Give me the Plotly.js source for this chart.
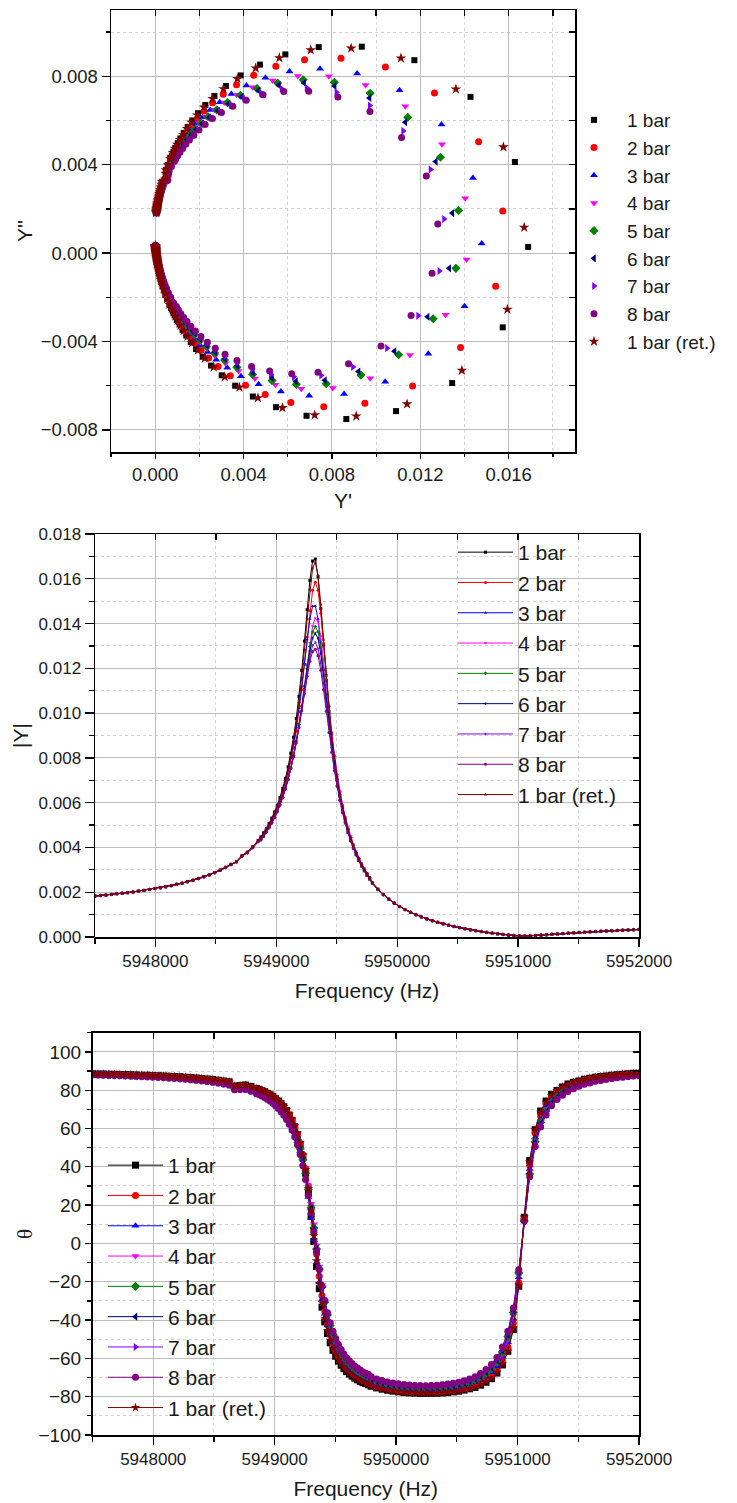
<!DOCTYPE html>
<html>
<head>
<meta charset="utf-8">
<script src="https://cdn.plot.ly/plotly-3.0.1.min.js"></script>
<style>
  html, body { margin: 0; padding: 0; background: #ffffff; }
  #chart { width: 737px; height: 1503px; }
</style>
</head>
<body>
<div id="chart"></div>
<script>
// Frequency sweep (Hz): 45 Hz steps in the wings, 22.5 Hz steps across the resonance.
const freqHz = [
  5947500,5947545,5947590,5947635,5947680,5947725,5947770,5947815,5947860,5947905,5947950,5947995,5948040,5948085,5948130,5948175,5948220,5948265,5948310,5948355,5948400,5948445,5948490,5948535,5948580,5948625,5948670,5948715,5948760,5948805,5948850,
  5948872.5,5948895,5948917.5,5948940,5948962.5,5948985,5949007.5,5949030,5949052.5,5949075,5949097.5,5949120,5949142.5,5949165,5949187.5,5949210,5949232.5,5949255,5949277.5,5949300,5949322.5,5949345,5949367.5,5949390,5949412.5,5949435,5949457.5,5949480,5949502.5,5949525,5949547.5,5949570,5949592.5,5949615,5949637.5,5949660,5949682.5,5949705,5949727.5,5949750,5949772.5,
  5949795,5949840,5949885,5949930,5949975,5950020,5950065,5950110,5950155,5950200,5950245,5950290,5950335,5950380,5950425,5950470,5950515,5950560,5950605,5950650,5950695,5950740,5950785,5950830,5950875,5950920,5950965,5951010,5951055,5951100,5951145,5951190,5951235,5951280,5951325,5951370,5951415,5951460,5951505,5951550,5951595,5951640,5951685,5951730,5951775,5951820,5951865,5951910,5951955,5952000
];

// Conductance Y' (mS) and susceptance Y'' (mS) for each pressure, on the sweep above.
const g1bar = [
  .047,.049,.052,.055,.058,.061,.065,.069,.073,.078,.083,.088,.095,.102,.110,.118,.128,.139,.152,.166,.183,.202,.224,.250,.281,.318,.462,.477,.485,.570,.680,
  0.75,0.83,0.91,1.02,1.14,1.29,1.47,1.68,1.94,2.27,2.68,3.20,3.87,4.74,5.89,7.40,9.35,11.73,14.27,16.28,16.88,15.73,13.44,10.90,8.65,6.85,5.47,4.42,3.62,3.01,2.53,2.15,1.85,1.61,1.41,1.24,1.10,0.98,0.88,0.80,0.72,
  .645,.539,.457,.392,.339,.296,.260,.230,.205,.183,.165,.149,.134,.122,.111,.102,.093,.086,.079,.072,.067,.062,.057,.053,.049,.046,.042,.039,.037,.034,.032,.029,.027,.025,.024,.022,.020,.019,.018,.016,.015,.014,.013,.012,.011,.010,.009,.008,.007,.007
];
const b1bar = [
  1.83,1.85,1.87,1.90,1.93,1.95,1.98,2.01,2.05,2.08,2.12,2.16,2.20,2.24,2.29,2.35,2.40,2.47,2.53,2.61,2.69,2.77,2.87,2.98,3.10,3.23,3.34,3.60,3.76,3.99,4.26,
  4.41,4.58,4.76,4.97,5.19,5.43,5.70,6.00,6.33,6.70,7.11,7.56,8.04,8.53,8.99,9.32,9.34,8.73,7.07,4.12,0.28,-3.36,-5.88,-7.15,-7.51,-7.36,-6.97,-6.49,-6.00,-5.53,-5.09,-4.69,-4.34,-4.02,-3.73,-3.47,-3.23,-3.02,-2.82,-2.64,-2.48,
  -2.333,-2.070,-1.844,-1.650,-1.480,-1.331,-1.198,-1.080,-0.974,-0.879,-0.793,-0.714,-0.642,-0.576,-0.515,-0.459,-0.407,-0.359,-0.314,-0.272,-0.233,-0.196,-0.162,-0.129,-0.098,-0.069,-0.042,-0.016,0.009,0.032,0.054,0.076,0.096,0.115,0.133,0.151,0.168,0.184,0.199,0.214,0.229,0.242,0.256,0.268,0.281,0.293,0.304,0.315,0.326,0.336
];
const g2bar = [
  .050,.053,.056,.059,.062,.065,.069,.073,.078,.083,.088,.095,.101,.109,.117,.126,.137,.149,.162,.177,.195,.215,.239,.266,.299,.338,.486,.504,.515,.606,.722,
  0.76,0.84,0.93,1.03,1.15,1.29,1.46,1.67,1.92,2.22,2.60,3.08,3.68,4.46,5.46,6.76,8.41,10.42,12.64,14.64,15.73,15.41,13.82,11.65,9.49,7.63,6.14,4.98,4.09,3.40,2.85,2.42,2.08,1.80,1.57,1.38,1.23,1.10,0.98,0.89,0.80,
  .685,.574,.487,.418,.362,.316,.278,.246,.220,.197,.177,.160,.145,.131,.120,.110,.101,.092,.085,.078,.072,.067,.062,.058,.054,.050,.046,.043,.040,.037,.035,.033,.030,.028,.026,.025,.023,.021,.020,.018,.017,.016,.015,.014,.013,.012,.011,.010,.009,.008
];
const b2bar = [
  1.83,1.85,1.87,1.90,1.93,1.95,1.98,2.01,2.05,2.08,2.12,2.16,2.20,2.24,2.29,2.35,2.40,2.46,2.53,2.60,2.68,2.77,2.87,2.97,3.09,3.23,3.33,3.59,3.75,3.97,4.24,
  4.32,4.48,4.65,4.84,5.04,5.27,5.52,5.79,6.10,6.43,6.80,7.19,7.62,8.05,8.45,8.75,8.82,8.42,7.25,5.04,1.90,-1.50,-4.27,-6.01,-6.79,-6.95,-6.76,-6.40,-5.98,-5.55,-5.13,-4.75,-4.40,-4.08,-3.79,-3.53,-3.29,-3.07,-2.87,-2.69,-2.53,
  -2.313,-2.054,-1.832,-1.640,-1.472,-1.324,-1.193,-1.076,-0.970,-0.876,-0.790,-0.711,-0.640,-0.574,-0.514,-0.458,-0.406,-0.358,-0.313,-0.271,-0.232,-0.195,-0.161,-0.128,-0.098,-0.069,-0.041,-0.016,0.009,0.032,0.055,0.076,0.096,0.115,0.134,0.151,0.168,0.184,0.200,0.215,0.229,0.243,0.256,0.269,0.281,0.293,0.304,0.315,0.326,0.336
];
const g3bar = [
  .054,.056,.059,.063,.066,.070,.074,.078,.083,.088,.094,.101,.108,.116,.125,.135,.146,.158,.173,.189,.208,.229,.254,.284,.318,.360,.510,.531,.547,.643,.765,
  0.84,0.93,1.03,1.14,1.28,1.44,1.63,1.86,2.14,2.49,2.92,3.45,4.13,4.99,6.08,7.46,9.14,11.06,12.96,14.38,14.78,14.00,12.36,10.41,8.55,6.97,5.69,4.68,3.88,3.26,2.76,2.37,2.04,1.78,1.57,1.38,1.23,1.10,0.99,0.90,0.82,
  .727,.610,.518,.445,.386,.337,.297,.263,.235,.210,.189,.171,.155,.141,.129,.118,.108,.100,.092,.085,.078,.072,.067,.062,.058,.054,.050,.047,.044,.041,.038,.036,.033,.031,.029,.027,.025,.024,.022,.021,.019,.018,.017,.016,.014,.013,.012,.011,.011,.010
];
const b3bar = [
  1.83,1.85,1.87,1.90,1.93,1.95,1.98,2.01,2.05,2.08,2.12,2.16,2.20,2.24,2.29,2.35,2.40,2.46,2.53,2.60,2.68,2.77,2.86,2.97,3.09,3.22,3.32,3.58,3.73,3.96,4.22,
  4.37,4.53,4.70,4.89,5.10,5.33,5.58,5.85,6.15,6.48,6.83,7.20,7.58,7.94,8.22,8.34,8.13,7.37,5.82,3.40,0.44,-2.41,-4.55,-5.82,-6.37,-6.45,-6.26,-5.94,-5.57,-5.19,-4.83,-4.48,-4.17,-3.88,-3.61,-3.37,-3.15,-2.95,-2.76,-2.59,-2.44,
  -2.292,-2.038,-1.819,-1.630,-1.463,-1.317,-1.187,-1.071,-0.966,-0.872,-0.787,-0.709,-0.637,-0.572,-0.512,-0.456,-0.404,-0.357,-0.312,-0.270,-0.231,-0.194,-0.160,-0.128,-0.097,-0.068,-0.041,-0.015,0.010,0.033,0.055,0.076,0.096,0.116,0.134,0.152,0.168,0.184,0.200,0.215,0.229,0.243,0.256,0.269,0.281,0.293,0.304,0.315,0.326,0.336
];
const g4bar = [
  .056,.059,.062,.065,.069,.073,.077,.081,.087,.092,.098,.105,.112,.121,.130,.140,.152,.165,.180,.197,.216,.238,.264,.295,.331,.374,.526,.550,.569,.667,.794,
  0.82,0.90,0.99,1.10,1.22,1.37,1.54,1.75,1.99,2.30,2.67,3.12,3.69,4.41,5.32,6.46,7.86,9.52,11.32,12.98,14.03,14.09,13.14,11.53,9.73,8.04,6.61,5.44,4.51,3.77,3.18,2.71,2.34,2.03,1.77,1.56,1.38,1.24,1.11,1.00,0.91,
  .755,.634,.539,.463,.402,.352,.310,.275,.245,.219,.198,.179,.162,.148,.135,.123,.113,.104,.096,.089,.082,.076,.071,.066,.061,.057,.053,.050,.046,.043,.040,.038,.035,.033,.031,.029,.027,.025,.024,.022,.021,.019,.018,.017,.016,.015,.014,.013,.012,.011
];
const b4bar = [
  1.83,1.85,1.87,1.90,1.93,1.95,1.98,2.01,2.05,2.08,2.12,2.16,2.20,2.24,2.29,2.35,2.40,2.46,2.53,2.60,2.68,2.76,2.86,2.97,3.08,3.22,3.31,3.57,3.73,3.95,4.20,
  4.24,4.39,4.55,4.73,4.92,5.13,5.35,5.60,5.87,6.17,6.49,6.82,7.17,7.51,7.81,8.01,8.00,7.61,6.65,4.92,2.48,-0.29,-2.79,-4.61,-5.66,-6.10,-6.14,-5.96,-5.67,-5.33,-4.98,-4.64,-4.32,-4.03,-3.75,-3.50,-3.27,-3.06,-2.87,-2.69,-2.53,
  -2.278,-2.027,-1.811,-1.623,-1.458,-1.312,-1.183,-1.067,-0.964,-0.870,-0.784,-0.707,-0.636,-0.571,-0.511,-0.455,-0.403,-0.356,-0.311,-0.269,-0.230,-0.194,-0.159,-0.127,-0.097,-0.068,-0.041,-0.015,0.010,0.033,0.055,0.076,0.097,0.116,0.134,0.152,0.169,0.185,0.200,0.215,0.229,0.243,0.256,0.269,0.281,0.293,0.304,0.315,0.326,0.336
];
const g5bar = [
  .057,.060,.064,.067,.071,.075,.079,.084,.089,.095,.101,.108,.116,.124,.134,.144,.156,.169,.185,.202,.222,.245,.272,.303,.340,.385,.538,.563,.584,.685,.814,
  0.85,0.93,1.03,1.14,1.27,1.43,1.61,1.83,2.09,2.40,2.79,3.27,3.86,4.61,5.54,6.70,8.11,9.73,11.43,12.91,13.73,13.61,12.58,11.02,9.31,7.74,6.39,5.29,4.41,3.70,3.14,2.69,2.32,2.02,1.77,1.56,1.39,1.24,1.11,1.01,0.91,
  .775,.651,.554,.476,.413,.362,.319,.283,.252,.226,.204,.184,.167,.152,.139,.127,.117,.108,.099,.092,.085,.079,.073,.068,.063,.059,.055,.051,.048,.045,.042,.039,.037,.034,.032,.030,.028,.027,.025,.023,.022,.020,.019,.018,.017,.015,.014,.013,.012,.011
];
const b5bar = [
  1.83,1.85,1.87,1.90,1.93,1.95,1.98,2.01,2.05,2.08,2.12,2.16,2.20,2.24,2.29,2.35,2.40,2.46,2.53,2.60,2.68,2.76,2.86,2.96,3.08,3.21,3.31,3.57,3.72,3.94,4.19,
  4.26,4.41,4.57,4.74,4.93,5.14,5.37,5.62,5.88,6.17,6.48,6.81,7.14,7.45,7.70,7.84,7.73,7.23,6.14,4.34,1.93,-0.69,-2.97,-4.60,-5.52,-5.91,-5.94,-5.77,-5.49,-5.17,-4.84,-4.52,-4.22,-3.93,-3.67,-3.43,-3.21,-3.01,-2.82,-2.65,-2.49,
  -2.268,-2.020,-1.805,-1.618,-1.454,-1.309,-1.180,-1.065,-0.962,-0.868,-0.783,-0.706,-0.635,-0.570,-0.510,-0.454,-0.403,-0.355,-0.310,-0.269,-0.230,-0.193,-0.159,-0.127,-0.096,-0.067,-0.040,-0.014,0.010,0.033,0.056,0.077,0.097,0.116,0.134,0.152,0.169,0.185,0.200,0.215,0.229,0.243,0.256,0.269,0.281,0.293,0.304,0.315,0.326,0.336
];
const g6bar = [
  .059,.062,.065,.068,.072,.076,.081,.086,.091,.097,.103,.110,.118,.127,.136,.147,.159,.173,.189,.206,.227,.250,.278,.310,.348,.393,.547,.574,.596,.699,.830,
  0.87,0.96,1.05,1.17,1.30,1.46,1.64,1.86,2.13,2.45,2.84,3.32,3.92,4.67,5.60,6.74,8.12,9.70,11.32,12.70,13.45,13.31,12.33,10.83,9.20,7.68,6.37,5.29,4.42,3.72,3.16,2.71,2.34,2.04,1.79,1.58,1.41,1.26,1.13,1.02,0.93,
  .791,.665,.566,.486,.422,.370,.326,.289,.258,.231,.208,.188,.171,.156,.142,.130,.120,.110,.102,.094,.087,.081,.075,.070,.065,.061,.057,.053,.049,.046,.043,.040,.038,.035,.033,.031,.029,.027,.026,.024,.023,.021,.020,.019,.017,.016,.015,.014,.013,.012
];
const b6bar = [
  1.83,1.85,1.87,1.90,1.93,1.95,1.98,2.01,2.05,2.08,2.12,2.16,2.20,2.24,2.29,2.35,2.40,2.46,2.53,2.60,2.68,2.76,2.86,2.96,3.08,3.21,3.31,3.56,3.71,3.93,4.19,
  4.26,4.40,4.56,4.74,4.93,5.13,5.36,5.60,5.86,6.14,6.44,6.76,7.07,7.36,7.60,7.70,7.56,7.02,5.92,4.14,1.81,-0.69,-2.88,-4.44,-5.36,-5.75,-5.80,-5.65,-5.40,-5.10,-4.78,-4.47,-4.18,-3.90,-3.64,-3.41,-3.19,-2.99,-2.80,-2.63,-2.48,
  -2.261,-2.014,-1.800,-1.614,-1.451,-1.307,-1.178,-1.063,-0.960,-0.867,-0.782,-0.705,-0.634,-0.569,-0.509,-0.454,-0.402,-0.355,-0.310,-0.269,-0.230,-0.193,-0.159,-0.127,-0.096,-0.067,-0.040,-0.014,0.010,0.034,0.056,0.077,0.097,0.116,0.134,0.152,0.169,0.185,0.200,0.215,0.229,0.243,0.256,0.269,0.281,0.293,0.304,0.315,0.326,0.336
];
const g7bar = [
  .060,.064,.067,.071,.074,.079,.083,.088,.094,.100,.106,.114,.122,.131,.141,.152,.164,.178,.194,.213,.234,.258,.286,.319,.358,.404,.560,.588,.613,.719,.854,
  0.90,0.99,1.09,1.21,1.35,1.51,1.70,1.93,2.20,2.53,2.93,3.42,4.03,4.79,5.72,6.85,8.20,9.71,11.22,12.46,13.07,12.86,11.90,10.49,8.95,7.51,6.27,5.23,4.39,3.71,3.17,2.72,2.36,2.06,1.81,1.60,1.43,1.28,1.15,1.04,0.94,
  .814,.684,.582,.501,.435,.381,.336,.298,.266,.239,.215,.194,.177,.161,.147,.135,.124,.114,.105,.097,.090,.084,.078,.072,.067,.063,.059,.055,.051,.048,.045,.042,.039,.037,.035,.033,.031,.029,.027,.025,.024,.022,.021,.020,.018,.017,.016,.015,.014,.013
];
const b7bar = [
  1.83,1.85,1.87,1.90,1.93,1.95,1.98,2.01,2.05,2.08,2.12,2.16,2.20,2.24,2.29,2.35,2.40,2.46,2.52,2.60,2.67,2.76,2.85,2.96,3.08,3.21,3.30,3.56,3.71,3.92,4.17,
  4.25,4.40,4.56,4.73,4.92,5.12,5.34,5.58,5.84,6.11,6.40,6.69,6.99,7.25,7.44,7.48,7.28,6.68,5.53,3.78,1.54,-0.81,-2.84,-4.30,-5.15,-5.54,-5.60,-5.48,-5.24,-4.96,-4.67,-4.37,-4.09,-3.83,-3.58,-3.35,-3.14,-2.94,-2.77,-2.60,-2.45,
  -2.249,-2.005,-1.793,-1.609,-1.446,-1.303,-1.175,-1.061,-0.958,-0.865,-0.780,-0.703,-0.633,-0.568,-0.508,-0.453,-0.402,-0.354,-0.309,-0.268,-0.229,-0.193,-0.158,-0.126,-0.096,-0.067,-0.040,-0.014,0.011,0.034,0.056,0.077,0.097,0.116,0.135,0.152,0.169,0.185,0.201,0.215,0.230,0.243,0.256,0.269,0.281,0.293,0.304,0.315,0.326,0.336
];
const g8bar = [
  .062,.065,.068,.072,.076,.080,.085,.090,.096,.102,.109,.116,.125,.134,.144,.155,.168,.182,.199,.218,.239,.264,.292,.326,.366,.413,.570,.600,.626,.734,.872,
  0.93,1.02,1.12,1.24,1.38,1.55,1.75,1.98,2.26,2.59,3.00,3.51,4.12,4.88,5.82,6.95,8.27,9.72,11.15,12.27,12.79,12.53,11.58,10.22,8.75,7.37,6.18,5.18,4.36,3.70,3.16,2.72,2.36,2.07,1.82,1.61,1.44,1.29,1.16,1.05,0.96,
  .831,.699,.595,.512,.445,.390,.344,.305,.272,.244,.220,.199,.181,.165,.151,.138,.127,.117,.108,.100,.093,.086,.080,.074,.069,.065,.060,.057,.053,.049,.046,.043,.041,.038,.036,.034,.032,.030,.028,.026,.025,.023,.022,.020,.019,.018,.017,.016,.015,.014
];
const b8bar = [
  1.83,1.85,1.87,1.90,1.93,1.95,1.98,2.01,2.05,2.08,2.12,2.16,2.20,2.24,2.29,2.35,2.40,2.46,2.52,2.59,2.67,2.76,2.85,2.96,3.07,3.20,3.30,3.55,3.70,3.92,4.16,
  4.26,4.40,4.56,4.73,4.92,5.12,5.33,5.57,5.82,6.09,6.36,6.65,6.92,7.16,7.31,7.32,7.06,6.41,5.23,3.49,1.32,-0.91,-2.82,-4.20,-5.01,-5.39,-5.46,-5.34,-5.13,-4.86,-4.58,-4.30,-4.03,-3.77,-3.53,-3.31,-3.10,-2.91,-2.74,-2.57,-2.42,
  -2.241,-1.998,-1.788,-1.604,-1.443,-1.300,-1.173,-1.059,-0.956,-0.863,-0.779,-0.702,-0.632,-0.567,-0.507,-0.452,-0.401,-0.353,-0.309,-0.268,-0.229,-0.192,-0.158,-0.126,-0.095,-0.067,-0.040,-0.014,0.011,0.034,0.056,0.077,0.097,0.116,0.135,0.152,0.169,0.185,0.201,0.215,0.230,0.243,0.257,0.269,0.281,0.293,0.305,0.316,0.326,0.336
];
const g1barRet = [
  .047,.050,.053,.055,.059,.062,.065,.069,.074,.079,.084,.089,.096,.103,.111,.120,.129,.141,.153,.168,.185,.204,.226,.253,.284,.321,.466,.481,.490,.576,.687,
  0.74,0.81,0.90,1.00,1.13,1.27,1.44,1.64,1.90,2.21,2.60,3.09,3.72,4.55,5.62,7.04,8.87,11.12,13.61,15.76,16.70,15.94,13.88,11.40,9.10,7.22,5.76,4.65,3.81,3.15,2.65,2.25,1.93,1.67,1.46,1.29,1.14,1.02,0.91,0.82,0.75,
  .651,.545,.462,.396,.343,.299,.263,.233,.207,.185,.167,.150,.136,.124,.113,.103,.094,.087,.080,.073,.068,.063,.058,.054,.050,.046,.043,.040,.037,.035,.032,.030,.028,.026,.024,.022,.021,.019,.018,.017,.015,.014,.013,.012,.011,.010,.009,.009,.008,.007
];
const b1barRet = [
  1.83,1.85,1.87,1.90,1.93,1.95,1.98,2.01,2.05,2.08,2.12,2.16,2.20,2.24,2.29,2.35,2.40,2.47,2.53,2.61,2.69,2.77,2.87,2.98,3.10,3.23,3.34,3.60,3.76,3.99,4.26,
  4.37,4.54,4.72,4.91,5.13,5.36,5.63,5.92,6.24,6.60,6.99,7.43,7.89,8.37,8.83,9.19,9.27,8.82,7.42,4.80,1.16,-2.55,-5.31,-6.83,-7.38,-7.33,-7.00,-6.55,-6.07,-5.60,-5.16,-4.76,-4.40,-4.07,-3.78,-3.51,-3.27,-3.05,-2.86,-2.68,-2.51,
  -2.330,-2.067,-1.842,-1.648,-1.479,-1.329,-1.197,-1.079,-0.974,-0.878,-0.792,-0.714,-0.642,-0.576,-0.515,-0.459,-0.407,-0.359,-0.314,-0.272,-0.233,-0.196,-0.161,-0.129,-0.098,-0.069,-0.042,-0.016,0.009,0.032,0.054,0.076,0.096,0.115,0.133,0.151,0.168,0.184,0.200,0.214,0.229,0.242,0.256,0.268,0.281,0.293,0.304,0.315,0.326,0.336
];

const seriesNames = ['1 bar', '2 bar', '3 bar', '4 bar', '5 bar', '6 bar', '7 bar', '8 bar', '1 bar (ret.)'];
const seriesG = [g1bar, g2bar, g3bar, g4bar, g5bar, g6bar, g7bar, g8bar, g1barRet];
const seriesB = [b1bar, b2bar, b3bar, b4bar, b5bar, b6bar, b7bar, b8bar, b1barRet];
const seriesColors = ['#000000', '#ff0000', '#0000ff', '#ff00ff', '#008000', '#000080', '#8000ff', '#800080', '#800000'];
const seriesSymbols = ['square', 'circle', 'triangle-up', 'triangle-down', 'diamond', 'triangle-left', 'triangle-right', 'circle', 'star'];
const nyquistSizes = [6, 7, 7, 7, 7, 7, 7, 7, 8];

const FONT = 'Liberation Sans, Arial, Helvetica, sans-serif';
const MAJOR_GRID = '#bcbcbc';
const MINOR_GRID = '#d2d2d2';

const traces = [];
seriesNames.forEach((name, i) => {
  const g = seriesG[i];
  const b = seriesB[i];
  const yRe = g.map(v => v / 1000);            // mS -> S
  const yIm = b.map(v => v / 1000);
  const mag = g.map((v, k) => Math.hypot(v, b[k]) / 1000);
  const phase = g.map((v, k) => Math.atan2(b[k], v) * 180 / Math.PI);

  // Nyquist plane
  traces.push({
    type: 'scatter', mode: 'markers', name: name, x: yRe, y: yIm,
    xaxis: 'x', yaxis: 'y', legend: 'legend', hoverinfo: 'skip',
    marker: { symbol: seriesSymbols[i], color: seriesColors[i], size: nyquistSizes[i], line: { width: 0 } }
  });
  // |Y| versus frequency
  traces.push({
    type: 'scatter', mode: 'lines+markers', name: name, x: freqHz, y: mag,
    xaxis: 'x2', yaxis: 'y2', legend: 'legend2', hoverinfo: 'skip',
    line: { color: seriesColors[i], width: 1 },
    marker: { symbol: seriesSymbols[i], color: seriesColors[i], size: 3, line: { width: 0 } }
  });
  // phase versus frequency
  traces.push({
    type: 'scatter', mode: 'lines+markers', name: name, x: freqHz, y: phase,
    xaxis: 'x3', yaxis: 'y3', legend: 'legend3', hoverinfo: 'skip',
    line: { color: seriesColors[i], width: 1 },
    marker: { symbol: seriesSymbols[i], color: seriesColors[i], size: 7, line: { width: 0 } }
  });
});

// empty traces that carry the inward-pointing tick axes on the top and right frames
[['x4', 'y4'], ['x5', 'y5'], ['x6', 'y6']].forEach(([xa, ya]) => {
  traces.push({ type: 'scatter', mode: 'markers', x: [null], y: [null], xaxis: xa, yaxis: ya,
    showlegend: false, hoverinfo: 'skip' });
});

function outerAxis(extra) {
  return Object.assign({
    showline: true, linecolor: '#000', linewidth: 1.5, mirror: true,
    ticks: 'outside', ticklen: 8, tickwidth: 1.3, tickcolor: '#000',
    showgrid: true, gridcolor: MAJOR_GRID, gridwidth: 1, zeroline: false,
    tickfont: { family: FONT, size: 18, color: '#1a1a1a' },
    fixedrange: true
  }, extra);
}
function innerAxis(extra) {
  return Object.assign({
    showline: false, ticks: 'inside', ticklen: 6, tickwidth: 1.3, tickcolor: '#000',
    showticklabels: false, showgrid: false, zeroline: false, fixedrange: true
  }, extra);
}
function minor(tick0, dtick, len) {
  return { tick0: tick0, dtick: dtick, ticks: 'outside', ticklen: len, tickwidth: 1.2, tickcolor: '#000',
    showgrid: true, gridcolor: MINOR_GRID, gridwidth: 1, griddash: 'dot' };
}
const titleFont = { family: FONT, size: 21, color: '#1a1a1a' };

const dom1x = [111 / 737, 575 / 737], dom1y = [1 - 452 / 1503, 1 - 10 / 1503];
const dom2x = [95 / 737, 639 / 737], dom2y = [1 - 937 / 1503, 1 - 534 / 1503];
const dom3x = [92.5 / 737, 639 / 737], dom3y = [1 - 1435 / 1503, 1 - 1032.7 / 1503];
const rangeY1x = [-0.002, 0.019], rangeY1y = [-0.009, 0.011];
const rangeF = [5947500, 5952000], rangeMag = [0, 0.018], rangePhase = [-100, 110];

const layout = {
  width: 737, height: 1503,
  margin: { l: 0, r: 0, t: 0, b: 0 },
  paper_bgcolor: '#ffffff', plot_bgcolor: '#ffffff',
  font: { family: FONT, color: '#1a1a1a' },
  showlegend: true,

  xaxis: outerAxis({ domain: dom1x, anchor: 'y', range: rangeY1x, tick0: 0, dtick: 0.004, tickformat: '.3f',
    ticklen: 5, tickfont: { family: FONT, size: 18.5, color: '#1a1a1a' },
    minor: minor(0, 0.002, 3), title: { text: "Y'", font: titleFont, standoff: 9 } }),
  yaxis: outerAxis({ domain: dom1y, anchor: 'x', range: rangeY1y, tick0: 0, dtick: 0.004, tickformat: '.3f',
    tickfont: { family: FONT, size: 18.5, color: '#1a1a1a' },
    minor: minor(0, 0.002, 4), title: { text: "Y''", font: titleFont, standoff: 2 } }),
  xaxis4: innerAxis({ overlaying: 'x', anchor: 'y4', side: 'top', range: rangeY1x, tick0: 0, dtick: 0.002 }),
  yaxis4: innerAxis({ overlaying: 'y', anchor: 'x4', side: 'right', range: rangeY1y, tick0: 0, dtick: 0.002 }),

  xaxis2: outerAxis({ domain: dom2x, anchor: 'y2', range: rangeF, tick0: 5948000, dtick: 1000, tickformat: 'd',
    tickfont: { family: FONT, size: 17, color: '#1a1a1a' },
    minor: minor(5947500, 500, 5), title: { text: 'Frequency (Hz)', font: titleFont, standoff: 13 } }),
  yaxis2: outerAxis({ domain: dom2y, anchor: 'x2', range: rangeMag, tick0: 0, dtick: 0.002, tickformat: '.3f',
    tickfont: { family: FONT, size: 17, color: '#1a1a1a' }, ticklen: 9,
    minor: minor(0, 0.001, 5), title: { text: '|Y|', font: titleFont, standoff: 4 } }),
  xaxis5: innerAxis({ overlaying: 'x2', anchor: 'y5', side: 'top', range: rangeF, tick0: 5947500, dtick: 500 }),
  yaxis5: innerAxis({ overlaying: 'y2', anchor: 'x5', side: 'right', range: rangeMag, tick0: 0, dtick: 0.001 }),

  xaxis3: outerAxis({ domain: dom3x, anchor: 'y3', range: rangeF, tick0: 5948000, dtick: 1000, tickformat: 'd',
    tickfont: { family: FONT, size: 17, color: '#1a1a1a' },
    minor: minor(5947500, 500, 5), title: { text: 'Frequency (Hz)', font: titleFont, standoff: 13 } }),
  yaxis3: outerAxis({ domain: dom3y, anchor: 'x3', range: rangePhase, tick0: 0, dtick: 20,
    tickfont: { family: FONT, size: 19, color: '#1a1a1a' }, ticklen: 6,
    minor: minor(0, 10, 4),
    title: { text: 'θ', font: { family: 'Liberation Serif, DejaVu Serif, serif', size: 21, color: '#1a1a1a' }, standoff: 0 } }),
  xaxis6: innerAxis({ overlaying: 'x3', anchor: 'y6', side: 'top', range: rangeF, tick0: 5947500, dtick: 500 }),
  yaxis6: innerAxis({ overlaying: 'y3', anchor: 'x6', side: 'right', range: rangePhase, tick0: 0, dtick: 10 }),

  legend: { x: 561 / 737, y: 1 - 101 / 1503, xanchor: 'left', yanchor: 'top', itemwidth: 56,
    font: { family: FONT, size: 19, color: '#1a1a1a' }, bgcolor: 'rgba(0,0,0,0)', borderwidth: 0, tracegroupgap: 0 },
  legend2: { x: 453 / 737, y: 1 - 532 / 1503, xanchor: 'left', yanchor: 'top', itemwidth: 55,
    font: { family: FONT, size: 21, color: '#1a1a1a' }, bgcolor: 'rgba(0,0,0,0)', borderwidth: 0, tracegroupgap: 0 },
  legend3: { x: 103 / 737, y: 1 - 1145 / 1503, xanchor: 'left', yanchor: 'top', itemwidth: 55,
    font: { family: FONT, size: 21, color: '#1a1a1a' }, bgcolor: 'rgba(0,0,0,0)', borderwidth: 0, tracegroupgap: 0 }
};

Plotly.newPlot('chart', traces, layout, { staticPlot: true, displayModeBar: false });
</script>
</body>
</html>
